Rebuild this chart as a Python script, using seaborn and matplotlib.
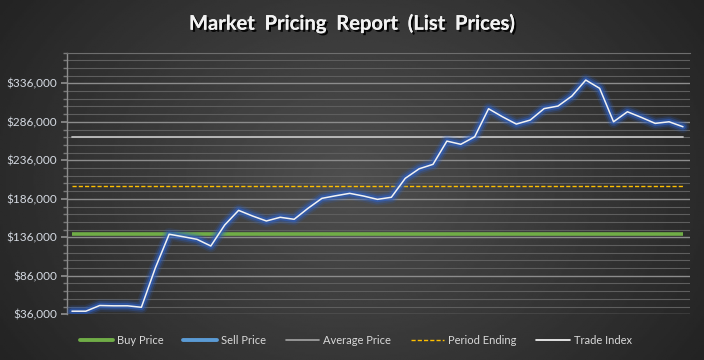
import numpy as np
import pandas as pd
import seaborn as sns
import matplotlib.pyplot as plt
import matplotlib.ticker as mtick
import matplotlib.patheffects as pe
from matplotlib.lines import Line2D

# Sell price / trade index readings (45 periods)
periods = list(range(45))
sell_price = [40000, 40000, 47400, 47000, 47000, 45100, 96000, 140000, 136800, 133400,
              124700, 152000, 171000, 163700, 157200, 162000, 159400, 173700, 186600, 190000,
              193100, 189600, 185300, 188000, 212600, 225000, 230800, 261000, 256800, 266600,
              303000, 292600, 283100, 288300, 303200, 306500, 319500, 340300, 329500, 286100,
              299100, 291800, 284000, 286100, 279600]
buy_price = 140000
average_price = 266000
period_ending = 202000

df = pd.DataFrame({"Period": periods, "Sell Price": sell_price})
df["Buy Price"] = buy_price
df["Average Price"] = average_price
df["Period Ending"] = period_ending

sns.set_theme(style="dark")
plt.rcParams['font.family'] = ['Lato', 'DejaVu Sans']

fig = plt.figure(figsize=(7.04, 3.6), dpi=100)

# radial gradient background for whole chart
bg = fig.add_axes([0, 0, 1, 1], zorder=-10)
xx, yy = np.meshgrid(np.linspace(-1, 1, 400), np.linspace(-1, 1, 200))
r = np.sqrt((xx * 0.9) ** 2 + (yy * 0.6) ** 2)
shade = np.clip(0.31 - 0.16 * r, 0.14, 0.31)
bg.imshow(shade, cmap="gray", vmin=0, vmax=1, aspect="auto", extent=[0, 1, 0, 1])
bg.set_axis_off()

ax = fig.add_axes([0.0947, 0.127, 0.8853, 0.727])
ax.set_facecolor("none")

# constant reference lines
sns.lineplot(data=df, x="Period", y="Buy Price", ax=ax, color="#70AD47", linewidth=2.6,
             solid_capstyle="butt", zorder=4)
sns.lineplot(data=df, x="Period", y="Average Price", ax=ax, color="#BFBFBF", linewidth=1.3, zorder=4)
sns.lineplot(data=df, x="Period", y="Period Ending", ax=ax, color="#FFC000", linewidth=1.0,
             linestyle=(0, (3, 1.5)), zorder=4)

# sell price with glow, trade index on top
for lw, a in [(9, 0.15), (6.5, 0.3), (4, 0.6)]:
    sns.lineplot(data=df, x="Period", y="Sell Price", ax=ax, color="#2E5FC0", linewidth=lw,
                 alpha=a, zorder=5, solid_joinstyle="round", solid_capstyle="round")
sns.lineplot(data=df, x="Period", y="Sell Price", ax=ax, color="#F2F2F2", linewidth=1.1, zorder=6)

ax.set_xlim(-0.38, len(periods) - 1 + 0.5)
ax.set_ylim(36000, 376000)
ax.yaxis.set_major_locator(mtick.MultipleLocator(50000, offset=36000))
ax.yaxis.set_minor_locator(mtick.MultipleLocator(10000, offset=36000))
ax.yaxis.set_major_formatter(mtick.StrMethodFormatter('${x:,.0f}'))
ax.set_xticks([])
ax.set_xlabel("")
ax.set_ylabel("")

ax.grid(which="major", axis="y", color="#8C8C8C", linewidth=1.0)
ax.grid(which="minor", axis="y", color="#5E5E5E", linewidth=0.8)
ax.set_axisbelow(True)
ax.tick_params(axis="y", which="major", length=4, color="#8C8C8C", labelsize=8.5,
               labelcolor="#D5DAE2", left=True, pad=3)
ax.tick_params(axis="y", which="minor", length=3, color="#7A7A7A", left=True)
for side in ["right", "bottom"]:
    ax.spines[side].set_visible(False)
ax.spines["left"].set_color("#8C8C8C")
ax.spines["left"].set_linewidth(1.0)
ax.spines["top"].set_color("#6E6E6E")
ax.spines["top"].set_linewidth(0.8)

fig.text(0.5, 0.935, "Market  Pricing  Report  (List  Prices)", ha="center", va="center",
         fontsize=14.5, fontweight="bold", color="#F2F2F2",
         path_effects=[pe.withSimplePatchShadow(offset=(1.5, -1.5), shadow_rgbFace="black", alpha=0.9),
                       pe.Normal()])

handles = [
    Line2D([], [], color="#70AD47", linewidth=2.8),
    Line2D([], [], color="#5B9BD5", linewidth=2.8),
    Line2D([], [], color="#A6A6A6", linewidth=1.2),
    Line2D([], [], color="#FFC000", linewidth=1.0, linestyle=(0, (3, 1.5))),
    Line2D([], [], color="#FFFFFF", linewidth=1.2),
]
labels = ["Buy Price", "Sell Price", "Average Price", "Period Ending", "Trade Index"]
leg = fig.legend(handles, labels, loc="center", bbox_to_anchor=(0.505, 0.055), ncol=5,
                 frameon=False, fontsize=8, handlelength=3.0, handletextpad=0.35,
                 columnspacing=1.8, labelcolor="#D9D9D9")

plt.savefig("out.png", dpi=100)
